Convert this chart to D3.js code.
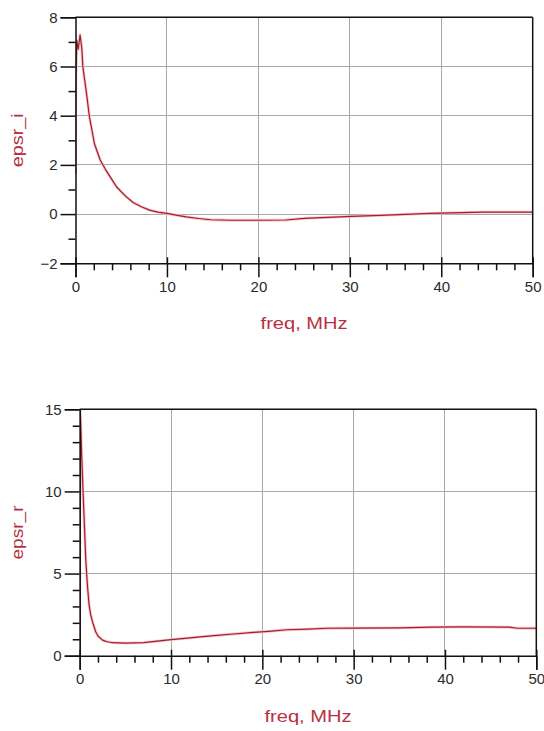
<!DOCTYPE html>
<html>
<head>
<meta charset="utf-8">
<script src="https://cdn.jsdelivr.net/npm/d3@7"></script>
<style>
  html, body { margin: 0; padding: 0; background: #ffffff; }
  svg { display: block; }
  text { font-family: "Liberation Sans", Arial, sans-serif; }
</style>
</head>
<body>
<svg id="chart" width="544" height="731"></svg>
<script>
// ---------- data ----------
const xTicks = [0, 10, 20, 30, 40, 50];
const xMinorTicks = [2, 4, 6, 8, 12, 14, 16, 18, 22, 24, 26, 28, 32, 34, 36, 38, 42, 44, 46, 48];

// top panel: epsr_i vs freq
const freqI = [0, 0.03, 0.15, 0.3, 0.5, 0.69, 0.8, 1.16, 1.53, 2.07, 2.7, 3.3, 3.9, 4.5, 5.5, 6.3, 7.2, 8.1, 9, 10, 11, 12.1, 13.5, 14.8, 17, 20, 23, 25, 29.5, 34, 38.8, 44.5, 50];
const epsrI = [1.63, 5.4, 7.05, 6.7, 7.28, 6.74, 6.0, 5.03, 3.94, 2.86, 2.2, 1.8, 1.45, 1.1, 0.72, 0.47, 0.3, 0.16, 0.08, 0.03, -0.04, -0.11, -0.18, -0.23, -0.25, -0.25, -0.24, -0.17, -0.1, -0.04, 0.03, 0.08, 0.08];
const yTicksI = [-2, 0, 2, 4, 6, 8];
const yMinorI = [-1, 1, 3, 5, 7];

// bottom panel: epsr_r vs freq
const freqR = [0, 0.02, 0.12, 0.2, 0.3, 0.4, 0.5, 0.66, 0.84, 1.03, 1.2, 1.4, 1.75, 2, 2.5, 3, 3.6, 5, 6, 7, 8, 9, 10, 11.5, 13.2, 15, 16.85, 19, 21, 22.7, 25, 27.1, 30, 35, 38.6, 42, 47, 48, 50];
const epsrR = [0, 15.5, 14, 12.5, 11, 9.5, 8.15, 5.9, 4.3, 3.08, 2.5, 2.07, 1.46, 1.2, 0.95, 0.85, 0.79, 0.77, 0.78, 0.8, 0.86, 0.92, 0.98, 1.05, 1.15, 1.24, 1.32, 1.42, 1.5, 1.58, 1.62, 1.67, 1.68, 1.7, 1.74, 1.75, 1.74, 1.67, 1.67];
const yTicksR = [0, 5, 10, 15];
const yMinorR = [1, 2, 3, 4, 6, 7, 8, 9, 11, 12, 13, 14];

const xTitle = "freq, MHz";

// ---------- styles ----------
const AXIS = "#111";
const GRID = "#a8a8a8";
const CURVE = "#a51d2d";
const LABEL = "#b8303f";
const TICKTXT = "#2a2a2a";

const svg = d3.select("#chart");

function panel(opt) {
  const x = d3.scaleLinear().domain([0, 50]).range([opt.left, opt.right]);
  const y = d3.scaleLinear().domain(opt.yDomain).range([opt.bottom, opt.top]);
  const g = svg.append("g");
  const clipId = "clip" + opt.id;
  g.append("clipPath").attr("id", clipId).append("rect")
    .attr("x", opt.left).attr("y", opt.top)
    .attr("width", opt.right - opt.left).attr("height", opt.bottom - opt.top);

  // grid
  g.append("g").selectAll("line").data(xTicks.slice(1, -1)).join("line")
    .attr("x1", d => x(d)).attr("x2", d => x(d))
    .attr("y1", opt.top).attr("y2", opt.bottom)
    .attr("stroke", GRID).attr("stroke-width", 1).attr("shape-rendering", "crispEdges");
  g.append("g").selectAll("line").data(opt.yTicks.slice(1, -1)).join("line")
    .attr("y1", d => y(d)).attr("y2", d => y(d))
    .attr("x1", opt.left).attr("x2", opt.right)
    .attr("stroke", GRID).attr("stroke-width", 1).attr("shape-rendering", "crispEdges");

  // curve
  const line = d3.line().x(d => x(d[0])).y(d => y(d[1]));
  g.append("path").datum(d3.zip(opt.xs, opt.ys))
    .attr("clip-path", `url(#${clipId})`)
    .attr("d", line).attr("fill", "none")
    .attr("stroke", "#f4c4c8").attr("stroke-width", 2.8).attr("stroke-linejoin", "round");
  g.append("path").datum(d3.zip(opt.xs, opt.ys))
    .attr("clip-path", `url(#${clipId})`)
    .attr("d", line).attr("fill", "none")
    .attr("stroke", CURVE).attr("stroke-width", 1.2).attr("stroke-linejoin", "round");

  // frame top/right
  g.append("line").attr("x1", opt.left).attr("x2", opt.right).attr("y1", opt.top).attr("y2", opt.top)
    .attr("stroke", AXIS).attr("stroke-width", 1.5);
  g.append("line").attr("x1", opt.right).attr("x2", opt.right).attr("y1", opt.top).attr("y2", opt.bottom)
    .attr("stroke", AXIS).attr("stroke-width", 1.5);

  // x axis
  const xAxis = d3.axisBottom(x).tickValues(xTicks).tickSize(14).tickPadding(4).tickFormat(d3.format("d"));
  const xa = g.append("g").attr("transform", `translate(0,${opt.bottom})`).call(xAxis);
  xa.select(".domain").attr("stroke", AXIS).attr("stroke-width", 1.5);
  xa.selectAll(".tick line").attr("stroke", AXIS).attr("stroke-width", 1.5).attr("y1", -6);
  xa.selectAll(".tick text").attr("fill", TICKTXT).attr("font-size", 15)
    .attr("font-family", "'Liberation Sans', Arial, sans-serif");
  const xm = d3.axisBottom(x).tickValues(xMinorTicks).tickSize(7).tickFormat("");
  const xma = g.append("g").attr("transform", `translate(0,${opt.bottom})`).call(xm);
  xma.select(".domain").remove();
  xma.selectAll(".tick line").attr("stroke", AXIS).attr("stroke-width", 1.5);

  // y axis
  const yAxis = d3.axisLeft(y).tickValues(opt.yTicks).tickSize(15).tickPadding(3).tickFormat(d3.format("d"));
  const ya = g.append("g").attr("transform", `translate(${opt.left},0)`).call(yAxis);
  ya.select(".domain").attr("stroke", AXIS).attr("stroke-width", 1.5);
  ya.selectAll(".tick line").attr("stroke", AXIS).attr("stroke-width", 1.5);
  ya.selectAll(".tick text").attr("fill", TICKTXT).attr("font-size", 15)
    .attr("font-family", "'Liberation Sans', Arial, sans-serif");
  const ym = d3.axisLeft(y).tickValues(opt.yMinor).tickSize(7).tickFormat("");
  const yma = g.append("g").attr("transform", `translate(${opt.left},0)`).call(ym);
  yma.select(".domain").remove();
  yma.selectAll(".tick line").attr("stroke", AXIS).attr("stroke-width", 1.5);

  // titles
  g.append("text")
    .attr("x", (opt.left + opt.right) / 2).attr("y", opt.bottom + 66)
    .attr("text-anchor", "middle").attr("fill", LABEL).attr("font-size", 16)
    .attr("textLength", 87).attr("lengthAdjust", "spacingAndGlyphs")
    .text(xTitle);
  g.append("text")
    .attr("transform", `translate(${opt.ylabX},${(opt.top + opt.bottom) / 2}) rotate(-90)`)
    .attr("text-anchor", "middle").attr("fill", LABEL).attr("font-size", 16)
    .attr("textLength", 54).attr("lengthAdjust", "spacingAndGlyphs")
    .text(opt.yTitle);
}

panel({ id: 1, left: 75.5, right: 532.7, top: 17.3, bottom: 263.3, yDomain: [-2, 8],
        yTicks: yTicksI, yMinor: yMinorI, xs: freqI, ys: epsrI, yTitle: "epsr_i", ylabX: 23 });
panel({ id: 2, left: 79.7, right: 536.3, top: 409.3, bottom: 655.7, yDomain: [0, 15],
        yTicks: yTicksR, yMinor: yMinorR, xs: freqR, ys: epsrR, yTitle: "epsr_r", ylabX: 23 });
</script>
</body>
</html>
